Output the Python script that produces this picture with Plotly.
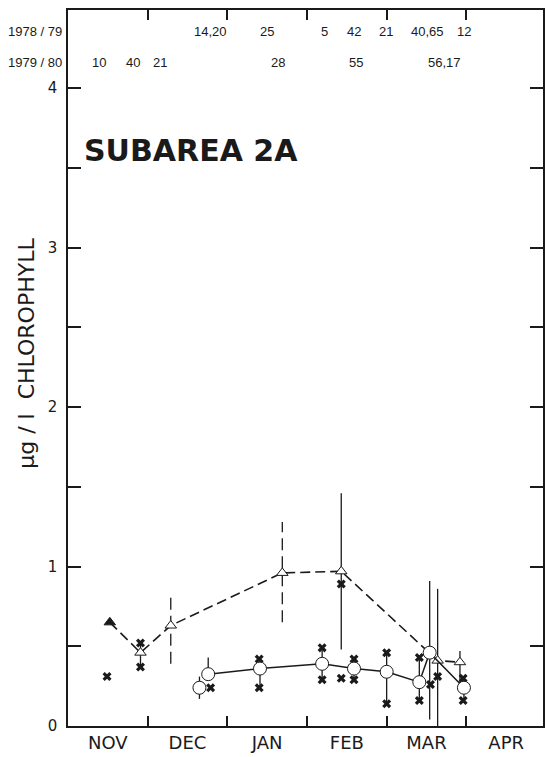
import plotly.graph_objects as go

# ---- data (x in months after 1 Nov: 0=Nov 1, 1=Dec 1, ...) ----
months = ["NOV", "DEC", "JAN", "FEB", "MAR", "APR"]

# 1979/80 series (triangles, dashed line)
tri_x = [0.525, 0.91, 1.29, 2.69, 3.43, 4.64, 4.92]
tri_y = [0.65, 0.46, 0.63, 0.96, 0.97, 0.41, 0.40]
tri_lo = [None, 0.37, 0.39, 0.65, 0.48, 0.00, 0.24]
tri_hi = [None, 0.52, 0.84, 1.28, 1.46, 0.86, 0.47]
tri_range_dashed = [False, False, True, True, False, False, False]
tri_filled = [True, False, False, False, False, False, False]

# 1978/79 series (circles, solid line)
circ_x = [1.76, 2.41, 3.19, 3.59, 4.00, 4.41, 4.54, 4.97]
circ_y = [0.325, 0.36, 0.39, 0.36, 0.34, 0.275, 0.46, 0.24]
circ_lo = [0.34, 0.24, 0.29, 0.29, 0.14, 0.16, 0.04, 0.16]
circ_hi = [0.43, 0.43, 0.49, 0.42, 0.46, 0.43, 0.91, 0.30]

# unconnected circle
lone_x = [1.65]
lone_y = [0.24]
lone_lo = [0.17]
lone_hi = [0.31]

# individual values (crosses)
cross_x = [0.49, 0.91, 0.91, 1.79, 2.40, 2.40, 3.19, 3.19, 3.43, 3.43,
           3.59, 3.59, 4.00, 4.00, 4.41, 4.41, 4.55, 4.64, 4.96, 4.96]
cross_y = [0.31, 0.52, 0.37, 0.24, 0.42, 0.24, 0.49, 0.29, 0.89, 0.30,
           0.42, 0.29, 0.46, 0.14, 0.43, 0.16, 0.26, 0.31, 0.30, 0.16]

# sample counts along the top
season1_label = "1978 / 79"
season1_counts = ["14,20", "25", "5", "42", "21", "40,65", "12"]
season1_x = [1.79, 2.50, 3.225, 3.59, 3.99, 4.51, 4.975]
season2_label = "1979 / 80"
season2_counts = ["10", "40", "21", "28", "55", "56,17"]
season2_x = [0.39, 0.81, 1.16, 2.64, 3.61, 4.725]

y_ticks = [0, 1, 2, 3, 4]
y_minor = [0.5, 1.5, 2.5, 3.5]

INK = "#1a1a1a"


def segments(xs, los, his, keep=None):
    X, Y = [], []
    for i, (x, lo, hi) in enumerate(zip(xs, los, his)):
        if lo is None:
            continue
        if keep is not None and not keep[i]:
            continue
        X += [x, x, None]
        Y += [lo, hi, None]
    return X, Y


fig = go.Figure()

# range bars
sx, sy = segments(tri_x, tri_lo, tri_hi, [not d for d in tri_range_dashed])
fig.add_trace(go.Scatter(x=sx, y=sy, mode="lines", line=dict(color=INK, width=1.3),
                         hoverinfo="skip", showlegend=False))
dx, dy = segments(tri_x, tri_lo, tri_hi, tri_range_dashed)
fig.add_trace(go.Scatter(x=dx, y=dy, mode="lines",
                         line=dict(color=INK, width=1.3, dash="12px,6px"),
                         hoverinfo="skip", showlegend=False))
cx, cy = segments(circ_x + lone_x, circ_lo + lone_lo, circ_hi + lone_hi)
fig.add_trace(go.Scatter(x=cx, y=cy, mode="lines", line=dict(color=INK, width=1.3),
                         hoverinfo="skip", showlegend=False))

# crosses
fig.add_trace(go.Scatter(x=cross_x, y=cross_y, mode="markers",
                         marker=dict(symbol="x", size=8, color=INK, line=dict(width=0)),
                         showlegend=False))

# dashed triangle series
fig.add_trace(go.Scatter(x=tri_x, y=tri_y, mode="lines+markers",
                         line=dict(color=INK, width=1.6, dash="10px,5px"),
                         marker=dict(symbol="triangle-up", size=10,
                                     color=[INK if f else "white" for f in tri_filled],
                                     line=dict(color=INK, width=1)),
                         showlegend=False))

# solid circle series
fig.add_trace(go.Scatter(x=circ_x, y=circ_y, mode="lines+markers",
                         line=dict(color=INK, width=1.5),
                         marker=dict(symbol="circle", size=13, color="white",
                                     line=dict(color=INK, width=1)),
                         showlegend=False))
fig.add_trace(go.Scatter(x=lone_x, y=lone_y, mode="markers",
                         marker=dict(symbol="circle", size=13, color="white",
                                     line=dict(color=INK, width=1)),
                         showlegend=False))

# top sample counts
for txt, x in zip(season1_counts, season1_x):
    fig.add_annotation(x=x, y=4.357, text=txt, showarrow=False,
                       font=dict(family="Liberation Sans, Arial", size=13, color=INK))
for txt, x in zip(season2_counts, season2_x):
    fig.add_annotation(x=x, y=4.163, text=txt, showarrow=False,
                       font=dict(family="Liberation Sans, Arial", size=13, color=INK))
fig.add_annotation(xref="paper", x=-0.008, y=4.357, text=season1_label, showarrow=False,
                   xanchor="right", font=dict(family="Liberation Sans, Arial", size=13, color=INK))
fig.add_annotation(xref="paper", x=-0.008, y=4.163, text=season2_label, showarrow=False,
                   xanchor="right", font=dict(family="Liberation Sans, Arial", size=13, color=INK))

# panel title
fig.add_annotation(xref="paper", yref="paper", x=0.029, y=0.804, text="<b>SUBAREA 2A</b>",
                   showarrow=False, xanchor="left", yanchor="middle",
                   font=dict(family="DejaVu Sans", size=30, color=INK))

# y axis title
fig.add_annotation(xref="paper", yref="paper", x=-0.086, y=0.52,
                   text="μg / l  CHLOROPHYLL", textangle=-90, showarrow=False,
                   xanchor="center", yanchor="middle",
                   font=dict(family="DejaVu Sans", size=22, color=INK))

fig.update_layout(
    width=547, height=757,
    margin=dict(l=68, r=2, t=10, b=31),
    paper_bgcolor="white", plot_bgcolor="white",
    showlegend=False,
    xaxis=dict(
        range=[0, 5.9625],
        tickvals=[i + 0.5 for i in range(len(months))],
        ticktext=months,
        ticks="", showgrid=False, zeroline=False,
        showline=True, linecolor=INK, linewidth=1.5, mirror="ticks",
        minor=dict(tickvals=list(range(1, len(months))), ticks="inside",
                   ticklen=10, tickcolor=INK, tickwidth=1.5, showgrid=False),
        tickfont=dict(family="DejaVu Sans", size=18, color=INK),
    ),
    yaxis=dict(
        range=[0, 4.49],
        tickvals=y_ticks, ticktext=[str(v) for v in y_ticks],
        ticks="inside", ticklen=13, tickcolor=INK, tickwidth=1.5,
        showgrid=False, zeroline=False,
        showline=True, linecolor=INK, linewidth=1.5, mirror="ticks",
        minor=dict(tickvals=y_minor, ticks="inside", ticklen=13,
                   tickcolor=INK, tickwidth=1.5, showgrid=False),
        tickfont=dict(family="DejaVu Sans", size=15, color=INK),
        ticklabelstandoff=6,
    ),
)

fig.write_html("out.html")
